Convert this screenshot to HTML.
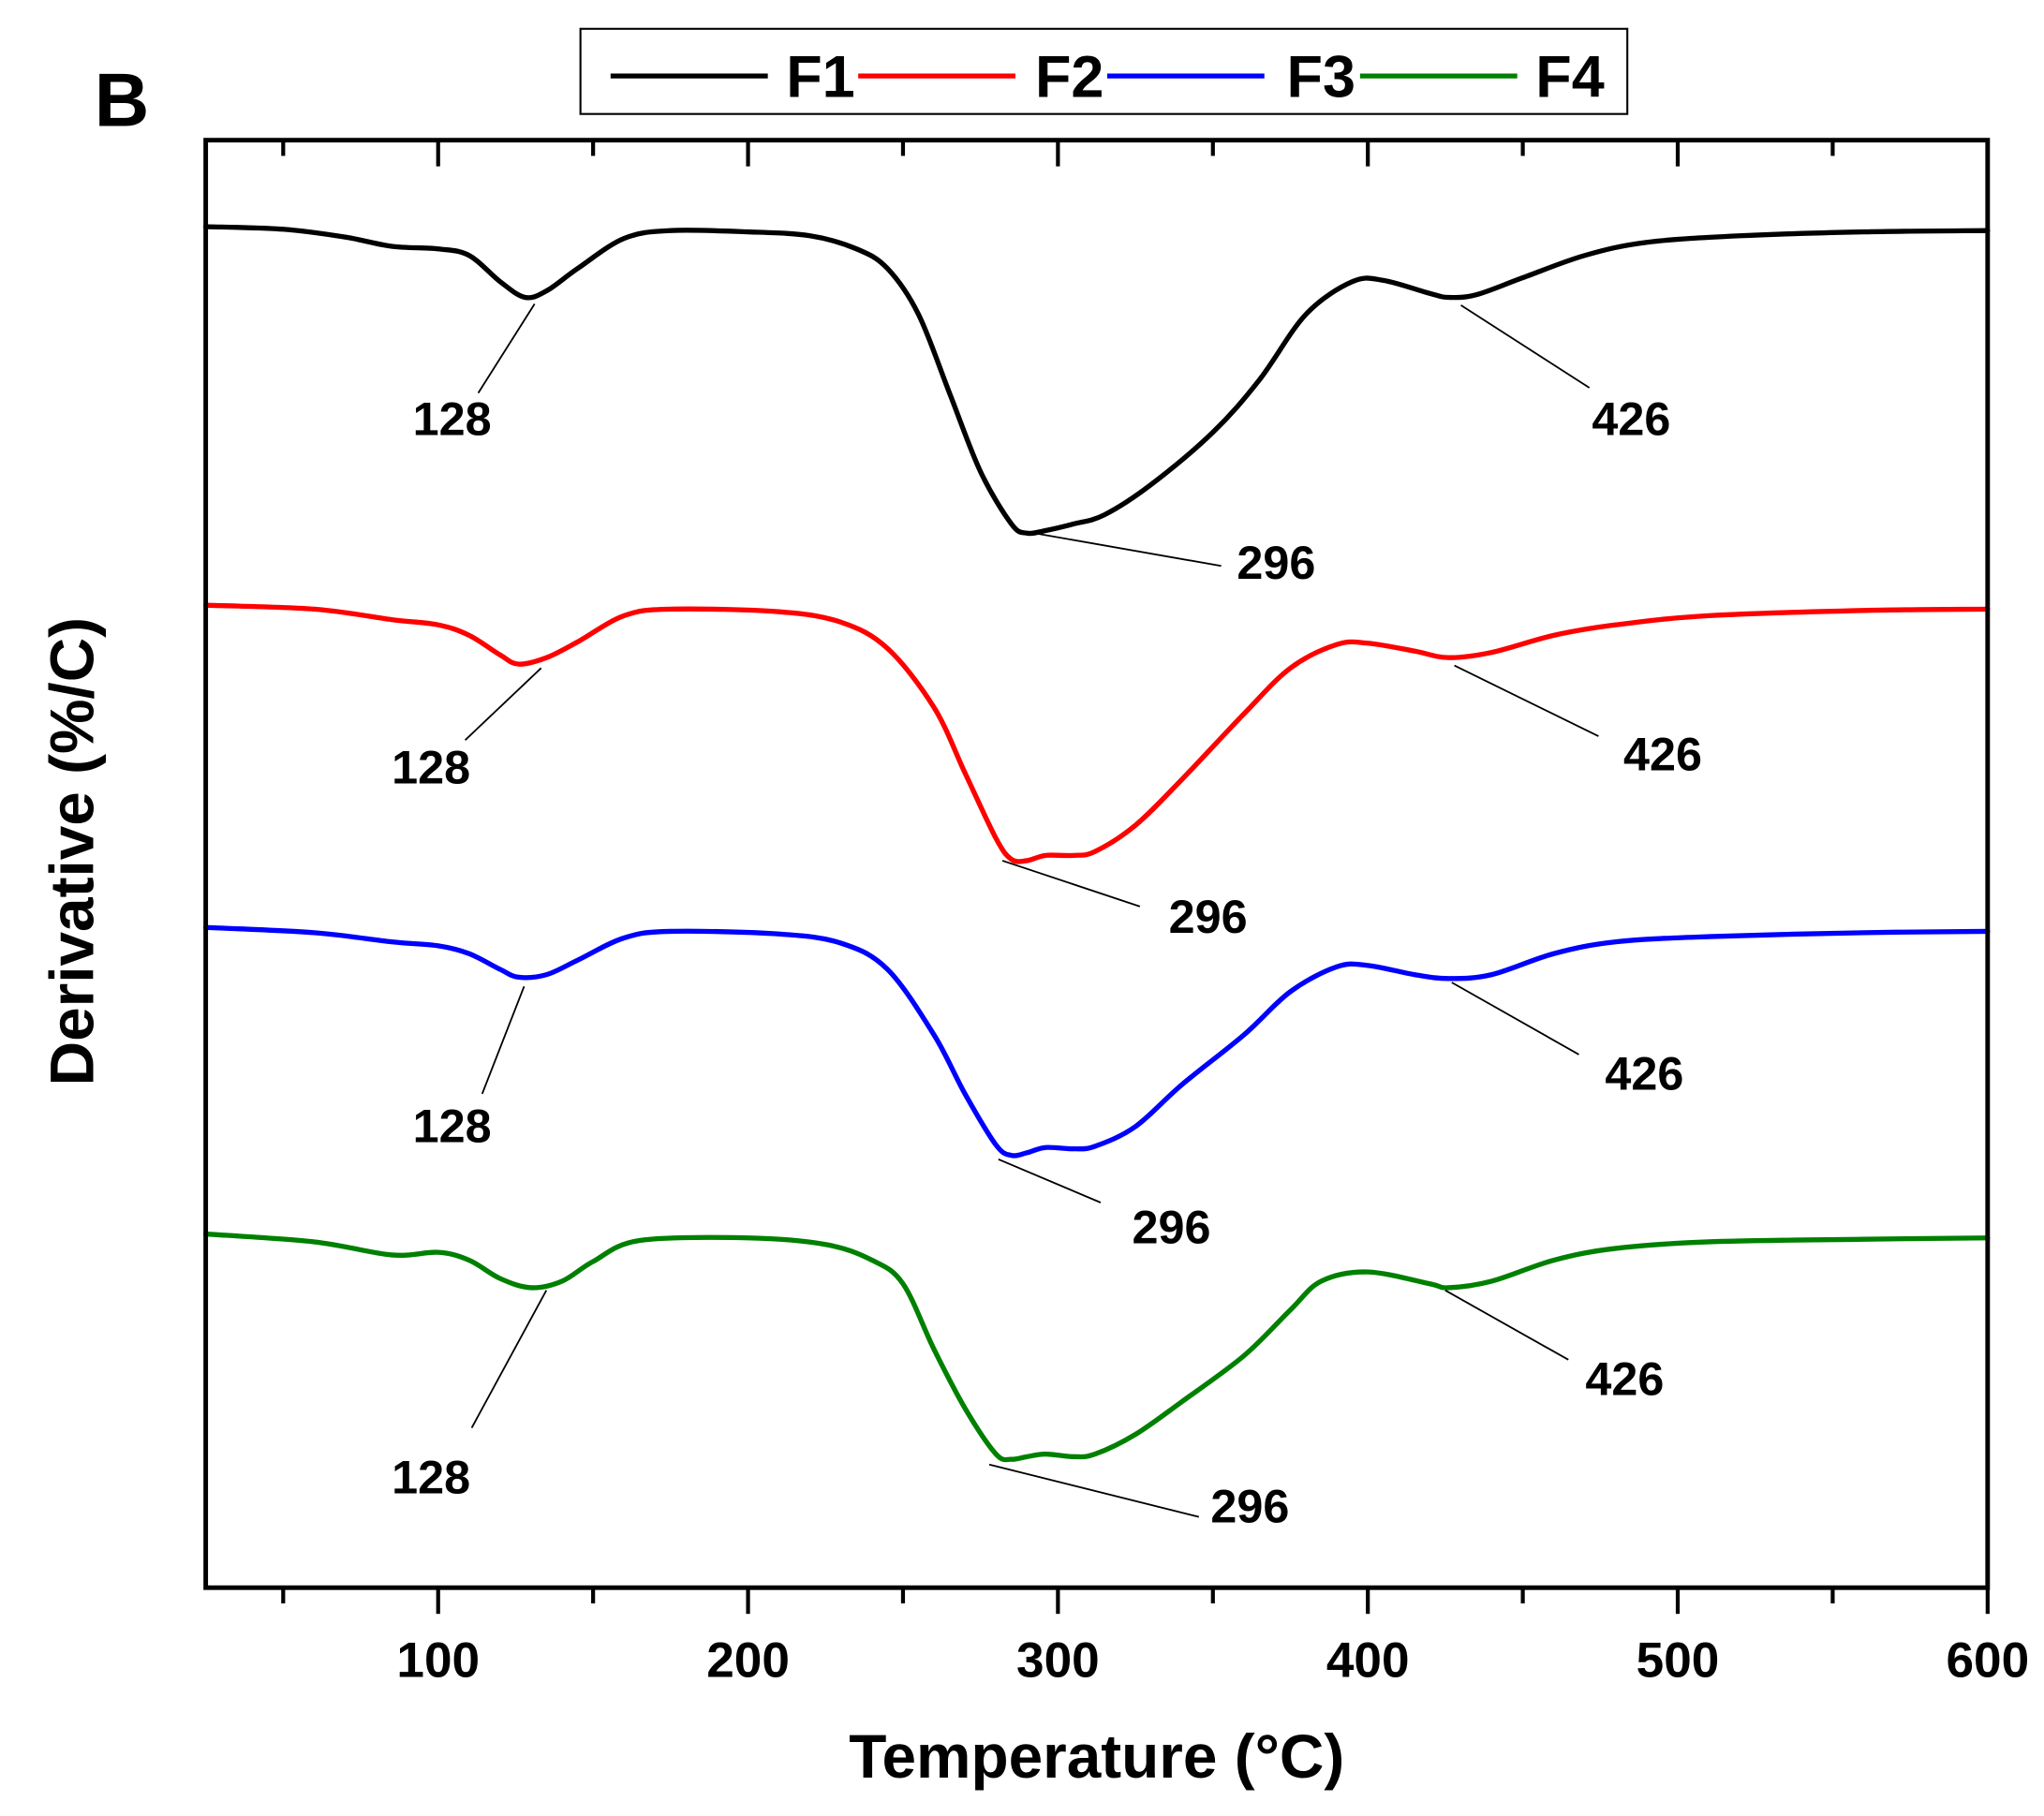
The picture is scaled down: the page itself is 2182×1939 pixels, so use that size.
<!DOCTYPE html>
<html><head><meta charset="utf-8"><style>
html,body{margin:0;padding:0;background:#fff}
svg{display:block}
text{font-family:"Liberation Sans",Arial,sans-serif;font-weight:bold;fill:#000}
</style></head><body>
<svg id="chart" width="2182" height="1939" viewBox="0 0 1560 1386.3" xmlns="http://www.w3.org/2000/svg">
<rect x="0" y="0" width="1560" height="1386.3" fill="#fff"/>
<text x="72" y="96" font-size="58">B</text>
<g id="legend">
<rect x="443" y="22" width="799" height="65" fill="#fff" stroke="#000" stroke-width="1.5"/>
</g>
<g id="ticks"></g>
<g id="series"></g>
<g id="annot"></g>
<rect x="157" y="107" width="1360" height="1105" fill="none" stroke="#000" stroke-width="3.5"/>
<text x="837" y="1357" font-size="47" text-anchor="middle">Temperature (°C)</text>
<text transform="translate(71,650) rotate(-90)" font-size="47" text-anchor="middle">Derivative (%/C)</text>
</svg>
<script>
const temps = [25,50,70,85,100,110,120,128,135,145,160,175,200,220,235,245,255,265,275,285,290,296,305,315,330,350,365,380,395,405,420,426,435,450,470,490,520,560,600];
const f1Values = [0.03,0.01,-0.05,-0.12,-0.14,-0.19,-0.39,-0.51,-0.46,-0.29,-0.06,0,-0.01,-0.04,-0.14,-0.29,-0.64,-1.24,-1.84,-2.24,-2.31,-2.29,-2.24,-2.17,-1.94,-1.54,-1.14,-0.64,-0.39,-0.38,-0.48,-0.51,-0.49,-0.36,-0.19,-0.09,-0.04,-0.01,0];
const temps2 = [25,60,85,100,110,120,126,135,145,160,175,210,230,245,260,270,280,285,290,296,305,312,325,340,360,375,390,400,415,426,440,460,480,510,560,600];
const f2Values = [0.03,0,-0.08,-0.12,-0.20,-0.35,-0.42,-0.37,-0.25,-0.05,0,-0.02,-0.10,-0.30,-0.75,-1.25,-1.75,-1.91,-1.92,-1.88,-1.88,-1.85,-1.65,-1.30,-0.80,-0.45,-0.27,-0.26,-0.32,-0.37,-0.33,-0.20,-0.12,-0.05,-0.01,0];
const f3Values = [0.03,-0.01,-0.08,-0.11,-0.17,-0.29,-0.35,-0.33,-0.22,-0.05,0,-0.02,-0.09,-0.29,-0.79,-1.24,-1.63,-1.71,-1.69,-1.65,-1.66,-1.64,-1.49,-1.17,-0.79,-0.46,-0.27,-0.26,-0.33,-0.36,-0.33,-0.17,-0.08,-0.04,-0.01,0];
const temps4 = [25,60,85,100,110,120,130,140,150,165,200,225,240,250,260,270,280,285,290,296,305,312,325,340,360,375,385,400,420,426,440,460,480,510,560,600];
const f4Values = [0.03,-0.03,-0.13,-0.11,-0.17,-0.31,-0.38,-0.33,-0.18,-0.02,0,-0.05,-0.17,-0.35,-0.85,-1.30,-1.65,-1.69,-1.67,-1.65,-1.67,-1.65,-1.50,-1.25,-0.90,-0.55,-0.33,-0.26,-0.35,-0.38,-0.33,-0.17,-0.08,-0.03,-0.01,0];
const seriesNames = ["F1","F2","F3","F4"];
const seriesColors = ["#000000","#ff0000","#0000ff","#008000"];
const seriesOffsets = [0,-2.89,-5.35,-7.69];
const xTicks = [100,200,300,400,500,600];
const xMinor = [50,150,250,350,450,550];
const peakLabels = ["128","296","426"];
const peakTemps = [128,296,426];

const NS="http://www.w3.org/2000/svg";
const X0=157,X1=1517,T0=25,T1=600;
const xS=t=>X0+(t-T0)*(X1-X0)/(T1-T0);
const yS=v=>176-v*100;
function mk(tag,attrs,parent){const e=document.createElementNS(NS,tag);for(const k in attrs)e.setAttribute(k,attrs[k]);parent.appendChild(e);return e;}
const allT=[temps,temps2,temps2,temps4], allV=[f1Values,f2Values,f3Values,f4Values];
const sg=document.getElementById('series');
function smoothPath(pts){let d="M"+pts[0][0]+","+pts[0][1];for(let i=0;i<pts.length-1;i++){const p0=pts[i-1]||pts[i],p1=pts[i],p2=pts[i+1],p3=pts[i+2]||p2;const c1=[p1[0]+(p2[0]-p0[0])/6,p1[1]+(p2[1]-p0[1])/6],c2=[p2[0]-(p3[0]-p1[0])/6,p2[1]-(p3[1]-p1[1])/6];d+=" C"+c1[0]+","+c1[1]+" "+c2[0]+","+c2[1]+" "+p2[0]+","+p2[1];}return d;}
seriesNames.forEach((n,i)=>{
  const pts=allT[i].map((t,j)=>[xS(t),yS(allV[i][j]+seriesOffsets[i])]);
  const p=mk('path',{d:smoothPath(pts),fill:'none',stroke:seriesColors[i],'stroke-width':3.8,'stroke-linejoin':'round','stroke-linecap':'round'},sg);
  
  
});
const tg=document.getElementById('ticks');
xTicks.forEach(t=>{
  const x=xS(t);
  const a=mk('line',{x1:x,x2:x,y1:1212,y2:1232,stroke:'#000','stroke-width':3},tg);
  
  
  const b=mk('line',{x1:x,x2:x,y1:107,y2:127,stroke:'#000','stroke-width':3},tg);
  
  
  const l=mk('text',{x:x,y:1280,'font-size':38,'text-anchor':'middle'},tg);
  l.textContent=t;
  
  
});
xMinor.forEach(t=>{
  const x=xS(t);
  const a=mk('line',{x1:x,x2:x,y1:1212,y2:1224,stroke:'#000','stroke-width':3},tg);
  
  
  const b=mk('line',{x1:x,x2:x,y1:107,y2:119,stroke:'#000','stroke-width':3},tg);
  
  
});
const lg=document.getElementById('legend');
const legLineX=[466,655,845,1038], legTextX=[600,790,982,1172];
seriesNames.forEach((n,i)=>{
  const ln=mk('line',{x1:legLineX[i],x2:legLineX[i]+120,y1:58,y2:58,stroke:seriesColors[i],'stroke-width':3.8},lg);
  
  
  const tx=mk('text',{x:legTextX[i],y:74,'font-size':45},lg);
  tx.textContent=n;
  
  
});
const ag=document.getElementById('annot');
const leaders=[
 [[[408,232],[365,300],345,332],[[778,405],[932,432],974,442],[[1115,233],[1213,296],1245,332]],
 [[[413,510],[355,565],329,598],[[765,657],[870,692],922,712],[[1110,508],[1220,562],1269,588]],
 [[[400,753],[368,835],345,872],[[762,885],[840,918],894,949],[[1108,750],[1205,805],1255,832]],
 [[[417,985],[360,1090],329,1140],[[755,1118],[915,1158],954,1162],[[1103,985],[1197,1038],1240,1065]]
];
leaders.forEach((arr,i)=>arr.forEach((a,j)=>{
  const l=mk('line',{x1:a[0][0],y1:a[0][1],x2:a[1][0],y2:a[1][1],stroke:'#000','stroke-width':1.3},ag);
  
  
  const t=mk('text',{x:a[2],y:a[3],'font-size':36,'text-anchor':'middle'},ag);
  t.textContent=peakLabels[j];
  
  
}));
</script>
</body></html>
